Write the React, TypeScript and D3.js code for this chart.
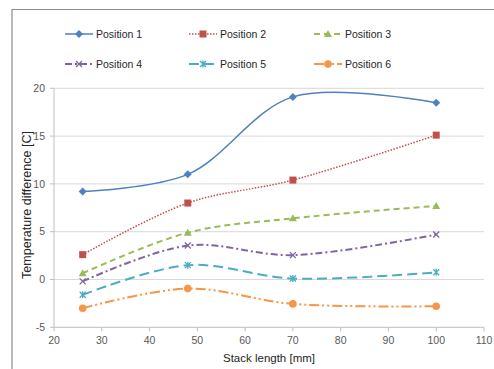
import React from "react";
import * as d3 from "d3";

const stackLength = [26, 48, 70, 100];
const seriesNames = ["Position 1", "Position 2", "Position 3", "Position 4", "Position 5", "Position 6"];
const position1 = [9.2, 11.0, 19.1, 18.5];
const position2 = [2.6, 8.0, 10.4, 15.1];
const position3 = [0.65, 4.9, 6.4, 7.7];
const position4 = [-0.2, 3.55, 2.55, 4.7];
const position5 = [-1.6, 1.5, 0.1, 0.75];
const position6 = [-3.0, -0.95, -2.55, -2.8];
const xTicks = [20, 30, 40, 50, 60, 70, 80, 90, 100, 110];
const yTicks = [-5, 0, 5, 10, 15, 20];

const seriesValues = [position1, position2, position3, position4, position5, position6];
const colors = ["#4F81BD", "#C0504D", "#9BBB59", "#8064A2", "#4BACC6", "#F79646"];
const dashes = ["", "1.5,1.5", "6,4", "7,3,2,3", "10,5", "10,3,2,3,2,3"];
const widths = [1.5, 1.5, 2, 2, 2, 2];
const markers = ["diamond", "square", "triangle", "x", "star", "circle"];

const W = 494;
const H = 369;
const m = { left: 54, right: 484, top: 88.3, bottom: 327.3 };

const x = d3.scaleLinear().domain([20, 110]).range([m.left, m.right]);
const y = d3.scaleLinear().domain([-5, 20]).range([m.bottom, m.top]);

const font = "'Liberation Sans', Arial, sans-serif";

function Marker({ kind, cx, cy, color }: { kind: string; cx: number; cy: number; color: string }) {
  switch (kind) {
    case "diamond":
      return <path d={`M${cx},${cy - 4}L${cx + 4},${cy}L${cx},${cy + 4}L${cx - 4},${cy}Z`} fill={color} />;
    case "square":
      return <rect x={cx - 3.5} y={cy - 3.5} width={7} height={7} fill={color} />;
    case "triangle":
      return <path d={`M${cx},${cy - 4}L${cx + 4},${cy + 3}L${cx - 4},${cy + 3}Z`} fill={color} />;
    case "x":
      return (
        <path d={`M${cx - 3},${cy - 3}L${cx + 3},${cy + 3}M${cx - 3},${cy + 3}L${cx + 3},${cy - 3}`} stroke={color} strokeWidth={1.3} />
      );
    case "star":
      return (
        <path
          d={`M${cx - 3},${cy - 3}L${cx + 3},${cy + 3}M${cx - 3},${cy + 3}L${cx + 3},${cy - 3}M${cx},${cy - 3.5}L${cx},${cy + 3.5}`}
          stroke={color}
          strokeWidth={1.3}
        />
      );
    default:
      return <circle cx={cx} cy={cy} r={3.8} fill={color} />;
  }
}

export default function App() {
  const line = d3
    .line<[number, number]>()
    .x((d) => x(d[0]))
    .y((d) => y(d[1]))
    .curve(d3.curveCatmullRom.alpha(0.5));

  const legendCols = [65, 189, 314];
  const legendRows = [34, 64];

  return (
    <svg width={W} height={H} style={{ position: "absolute", left: 0, top: 0, background: "#fff" }} fontFamily={font}>
      {/* frame */}
      <path d={`M12,${H}L12,9.5L${W},9.5`} fill="none" stroke="#8C8C8C" strokeWidth={1.2} />

      {/* grid */}
      {yTicks.filter((t) => t > -5).map((t) => (
        <line key={t} x1={m.left} x2={m.right} y1={y(t)} y2={y(t)} stroke="#D9D9D9" strokeWidth={1} />
      ))}

      {/* axes */}
      <line x1={m.left} x2={m.left} y1={m.top} y2={m.bottom} stroke="#BFBFBF" />
      <line x1={m.left} x2={m.right} y1={m.bottom} y2={m.bottom} stroke="#BFBFBF" />
      {yTicks.map((t) => (
        <g key={t}>
          <line x1={m.left - 4} x2={m.left} y1={y(t)} y2={y(t)} stroke="#BFBFBF" />
          <text x={m.left - 9} y={y(t)} dy="0.35em" textAnchor="end" fontSize={10.5} fill="#595959">
            {t}
          </text>
        </g>
      ))}
      {xTicks.map((t) => (
        <g key={t}>
          <line x1={x(t)} x2={x(t)} y1={m.bottom} y2={m.bottom + 4} stroke="#BFBFBF" />
          <text x={x(t)} y={m.bottom + 17} textAnchor="middle" fontSize={10.5} fill="#595959">
            {t}
          </text>
        </g>
      ))}

      {/* axis titles */}
      <text x={(m.left + m.right) / 2} y={362} textAnchor="middle" fontSize={11.5} fill="#262626">
        Stack length [mm]
      </text>
      <text
        transform={`translate(31,205) rotate(-90)`}
        textAnchor="middle"
        fontSize={12.5}
        fill="#262626"
      >
        Temperature difference [C]
      </text>

      {/* series */}
      {seriesValues.map((vals, i) => {
        const pts = stackLength.map((s, j) => [s, vals[j]] as [number, number]);
        return (
          <g key={seriesNames[i]}>
            <path
              d={line(pts) || ""}
              fill="none"
              stroke={colors[i]}
              strokeWidth={widths[i]}
              strokeDasharray={dashes[i] || undefined}
            />
            {pts.map((p, j) => (
              <Marker key={j} kind={markers[i]} cx={x(p[0])} cy={y(p[1])} color={colors[i]} />
            ))}
          </g>
        );
      })}

      {/* legend */}
      {seriesNames.map((name, i) => {
        const lx = legendCols[i % 3];
        const ly = legendRows[Math.floor(i / 3)];
        return (
          <g key={name}>
            <line
              x1={lx}
              x2={lx + 28}
              y1={ly}
              y2={ly}
              stroke={colors[i]}
              strokeWidth={widths[i]}
              strokeDasharray={dashes[i] || undefined}
            />
            <Marker kind={markers[i]} cx={lx + 14} cy={ly} color={colors[i]} />
            <text x={lx + 31} y={ly} dy="0.35em" fontSize={10.5} fill="#262626">
              {name}
            </text>
          </g>
        );
      })}
    </svg>
  );
}
